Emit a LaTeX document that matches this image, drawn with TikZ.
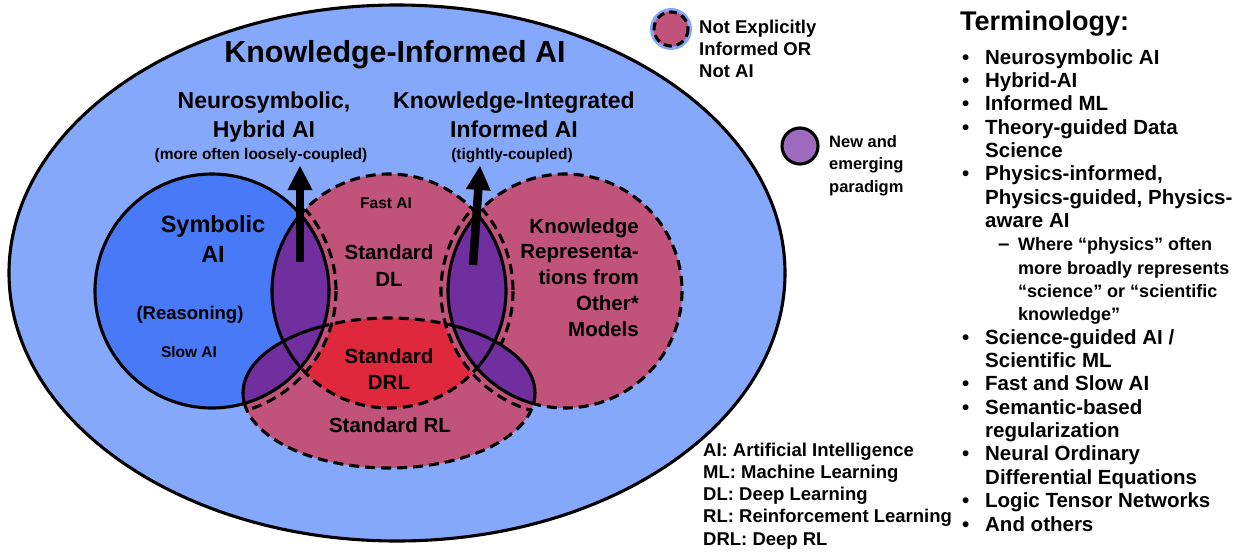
\documentclass[tikz,border=0pt]{standalone}
\usepackage{fontspec}
\setmainfont{Liberation Sans}
\definecolor{bgblue}{RGB}{134,168,250}
\definecolor{symblue}{RGB}{72,122,248}
\definecolor{pinkc}{RGB}{193,82,122}
\definecolor{redc}{RGB}{224,40,60}
\definecolor{purp}{RGB}{112,46,158}
\definecolor{legpurp}{RGB}{158,106,190}
\def\kiS{(212,291) circle[radius=117]}
\def\kiD{(389,291) circle[radius=117]}
\def\kiK{(565,291) circle[radius=117]}
\def\kiR{(389,393) ellipse[x radius=146, y radius=75]}
\def\kiBox{(0,0) rectangle (1244,552)}
\newcommand\kitb{\makebox[23pt][l]{•}}
\newcommand\kiti{\hspace*{23pt}}
\newcommand\kitj{\hspace*{56pt}}
\begin{document}
\begin{tikzpicture}[x=1pt,y=-1pt,
  solidline/.style={line width=3.1pt},
  dashline/.style={line width=3.1pt, dash pattern=on 10pt off 6pt},
  lbl/.style={align=center, inner sep=0pt, anchor=base},
  fs/.style 2 args={font=\bfseries\fontsize{#1}{#2}\selectfont}]
\useasboundingbox \kiBox;
% outer ellipse
\draw[fill=bgblue, solidline] (397,273) ellipse[x radius=388, y radius=268];
% pink sets
\fill[pinkc] \kiD; \fill[pinkc] \kiR; \fill[pinkc] \kiK;
% red DRL (inset from the lenses)
\begin{scope}
  \clip \kiD; \clip \kiR;
  \fill[redc] \kiBox;
  \fill[pinkc] (212,291) circle[radius=124];
  \fill[pinkc] (565,291) circle[radius=124];
\end{scope}
% symbolic
\fill[symblue] \kiS;
% purple lenses
\begin{scope}\clip \kiS; \fill[purp] \kiD; \fill[purp] \kiR; \end{scope}
\begin{scope}\clip \kiK; \fill[purp] \kiD; \fill[purp] \kiR; \end{scope}
% dashed outlines of the pink regions
\begin{scope}[even odd rule]
  \clip \kiBox \kiS \kiK;
  \draw[dashline] \kiD; \draw[dashline] \kiR;
\end{scope}
\begin{scope}[even odd rule]
  \clip \kiBox \kiD;
  \begin{scope}[even odd rule]
    \clip \kiBox \kiR;
    \draw[dashline] \kiK;
  \end{scope}
\end{scope}
\begin{scope}
  \clip \kiD \kiR;
  \draw[dashline] (212,291) circle[radius=124];
  \draw[dashline] (565,291) circle[radius=124];
\end{scope}
\begin{scope}
  \clip \kiK;
  \begin{scope}[even odd rule]
    \clip \kiBox \kiR;
    \draw[dashline] (389,291) circle[radius=124];
  \end{scope}
\end{scope}
% solid outlines of the lenses
\draw[solidline] \kiS;
\begin{scope}\clip \kiS; \draw[solidline] \kiD; \draw[solidline] \kiR; \end{scope}
\begin{scope}\clip \kiK; \draw[solidline] \kiD; \draw[solidline] \kiR; \end{scope}
\begin{scope}\clip \kiD \kiR; \draw[solidline] \kiK; \end{scope}
% arrows
\coordinate (a1s) at (300,262); \coordinate (a1b) at (300,188); \coordinate (a1t) at (300,166);
\coordinate (a1l) at (287.5,190); \coordinate (a1r) at (312.5,190);
\draw[line width=8.5pt] (a1s) -- (a1b);
\fill (a1l) -- (a1t) -- (a1r) -- cycle;
\coordinate (a2s) at (473,265); \coordinate (a2b) at (478.4,188); \coordinate (a2t) at (480,166);
\coordinate (a2l) at (465.8,189.0); \coordinate (a2r) at (490.8,190.8);
\draw[line width=8.5pt] (a2s) -- (a2b);
\fill (a2l) -- (a2t) -- (a2r) -- cycle;
% legend
\fill[bgblue] (671,29) circle[radius=21];
\fill[pinkc] (671,29) circle[radius=17.5];
\draw[line width=3.1pt, dash pattern=on 8pt off 5pt] (671,29) circle[radius=17];
\node[anchor=base west, align=left, inner sep=0pt, fs={18.5}{22}] (leg1) at (699,77) {Not Explicitly\\Informed OR\\Not AI};
\draw[fill=legpurp, solidline] (800,146) circle[radius=18];
\node[anchor=base west, align=left, inner sep=0pt, fs={16.5}{22.5}] (leg2) at (829,192) {New and\\emerging\\paradigm};
% titles
\node[lbl, fs={30.4}{36}] (title) at (395,62) {Knowledge-Informed AI};
\node[lbl, fs={23}{29}] (ns) at (264,137) {Neurosymbolic,\\Hybrid AI};
\node[lbl, fs={15.5}{18}] (ns2) at (261,159) {(more often loosely-coupled)};
\node[lbl, fs={23}{29}] (ki) at (514,137) {Knowledge-Integrated\\Informed AI};
\node[lbl, fs={15.5}{18}] (ki2) at (512,159) {(tightly-coupled)};
% set labels
\node[lbl, fs={23.5}{30}] (symb) at (213,262) {Symbolic\\AI};
\node[lbl, fs={18.5}{22}] (reas) at (190,319) {(Reasoning)};
\node[lbl, fs={15.5}{18}] (slow) at (189,357) {Slow AI};
\node[lbl, fs={15.5}{18}] (fast) at (386,208) {Fast AI};
\node[lbl, fs={20.5}{27}] (sdl) at (389,286) {Standard\\DL};
\node[lbl, fs={20.5}{26}] (sdrl) at (389,389) {Standard\\DRL};
\node[lbl, fs={20.5}{26}] (srl) at (390,432) {Standard RL};
\node[align=right, inner sep=0pt, anchor=base east, fs={20.5}{25.7}] (kr) at (639,336) {Knowledge\\Representa-\\tions from\\Other*\\Models};
% abbreviations
\node[anchor=base west, align=left, inner sep=0pt, fs={18.5}{22.2}] (abbr) at (703,545) {AI: Artificial Intelligence\\ML: Machine Learning\\DL: Deep Learning\\RL: Reinforcement Learning\\DRL: Deep RL};
% terminology
\node[anchor=base west, inner sep=0pt, fs={27}{30}] (termhead) at (960,30) {Terminology:};
\node[anchor=base west, align=left, inner sep=0pt, fs={20.5}{23.35}] (terms) at (962,531) {%
\kitb Neurosymbolic AI\\
\kitb Hybrid-AI\\
\kitb Informed ML\\
\kitb Theory-guided Data\\
\kiti Science\\
\kitb Physics-informed,\\
\kiti Physics-guided, Physics-\\
\kiti aware AI\\
\hspace*{36pt}\makebox[20pt][l]{–}{\fontsize{18}{23.35}\selectfont Where “physics” often}\\
\kitj{\fontsize{18}{23.35}\selectfont more broadly represents}\\
\kitj{\fontsize{18}{23.35}\selectfont “science” or “scientific}\\
\kitj{\fontsize{18}{23.35}\selectfont knowledge”}\\
\kitb Science-guided AI /\\
\kiti Scientific ML\\
\kitb Fast and Slow AI\\
\kitb Semantic-based\\
\kiti regularization\\
\kitb Neural Ordinary\\
\kiti Differential Equations\\
\kitb Logic Tensor Networks\\
\kitb And others};
\end{tikzpicture}
\end{document}
